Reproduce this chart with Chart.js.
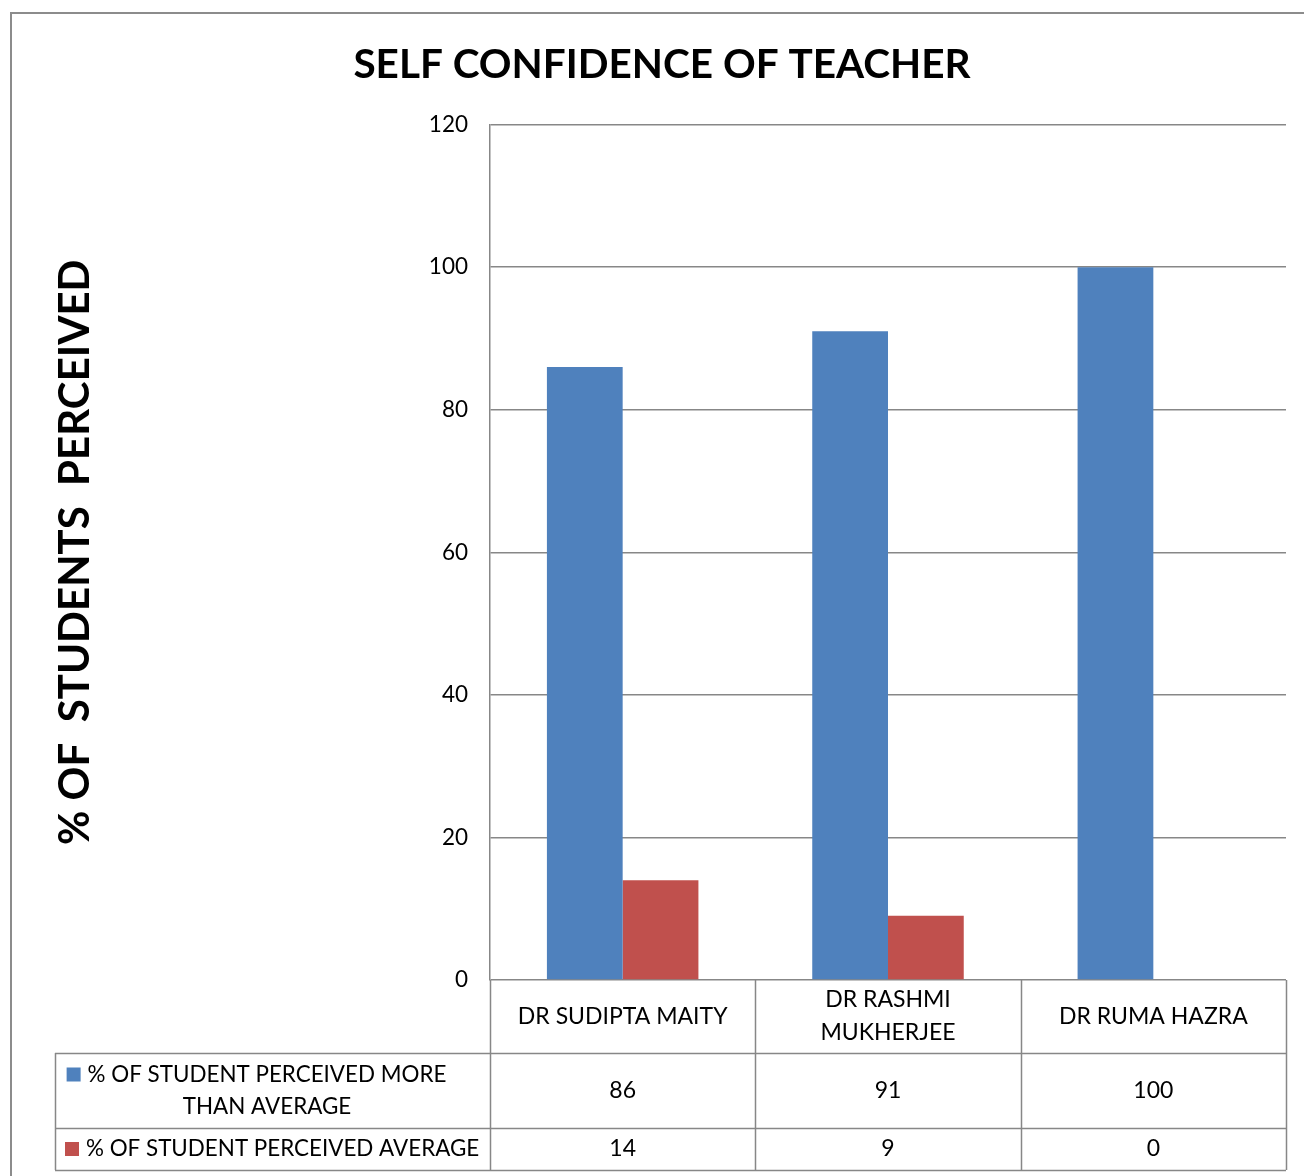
<!DOCTYPE html>
<html>
<head>
<meta charset="utf-8">
<script src="https://cdn.jsdelivr.net/npm/chart.js@4/dist/chart.umd.min.js"></script>
<style>
  html, body { margin: 0; padding: 0; background: #fff; }
  #wrap { position: relative; width: 1304px; height: 1176px; }
</style>
</head>
<body>
<div id="wrap"><canvas id="chart" width="1304" height="1176"></canvas></div>
<script>
// chart data
const teachers = [['DR SUDIPTA MAITY'], ['DR RASHMI', 'MUKHERJEE'], ['DR RUMA HAZRA']];
const moreThanAverage = [86, 91, 100];
const average = [14, 9, 0];
const seriesNames = [['% OF STUDENT PERCEIVED MORE', 'THAN AVERAGE'], ['% OF STUDENT PERCEIVED AVERAGE']];
const yMax = 120;
const yStep = 20;

const FONT = 'Lato, "Open Sans", sans-serif';
const BLUE = '#4F81BD';
const RED = '#C0504D';
const LINE = '#878787';

// draws the excel-like data table under the plot + outer frame
const dataTable = {
    id: 'dataTable',
    afterDraw(chart) {
        const ctx = chart.ctx;
        const x = chart.scales.x;
        const area = chart.chartArea;
        const catW = (area.right - area.left) / teachers.length;
        const top = area.bottom;
        const row1 = top + 73;
        const row2 = row1 + 75;
        const bottom = row2 + 42;
        const labelLeft = 55;

        ctx.save();
        ctx.strokeStyle = LINE;
        ctx.lineWidth = 1.5;
        ctx.beginPath();
        // vertical lines
        for (let i = 0; i <= teachers.length; i++) {
            const lx = Math.round(area.left + i * catW) + 0.5;
            ctx.moveTo(lx, top);
            ctx.lineTo(lx, bottom);
        }
        ctx.moveTo(labelLeft + 0.5, row1);
        ctx.lineTo(labelLeft + 0.5, bottom);
        // horizontal lines
        [row1, row2, bottom].forEach(ly => {
            ctx.moveTo(labelLeft, Math.round(ly) + 0.5);
            ctx.lineTo(area.right, Math.round(ly) + 0.5);
        });
        ctx.stroke();

        ctx.fillStyle = '#000';
        ctx.font = '23px ' + FONT;
        ctx.textAlign = 'center';
        ctx.textBaseline = 'middle';

        // header with teacher names
        teachers.forEach((lines, i) => {
            const cx = x.getPixelForValue(i);
            const cy = (top + row1) / 2;
            lines.forEach((t, j) => {
                ctx.fillText(t, cx, cy + (j - (lines.length - 1) / 2) * 33);
            });
        });

        // series rows
        const rows = [[row1, row2, moreThanAverage, BLUE], [row2, bottom, average, RED]];
        rows.forEach((r, k) => {
            const cy = (r[0] + r[1]) / 2;
            ctx.font = '23px ' + FONT;
            r[2].forEach((v, i) => {
                ctx.fillText(String(v), x.getPixelForValue(i), cy);
            });
            ctx.font = '22.4px ' + FONT;
            const lines = seriesNames[k];
            const firstW = ctx.measureText(lines[0]).width;
            let labelCx = 267;
            if (labelCx - firstW / 2 < 86) labelCx = 86 + firstW / 2;
            lines.forEach((t, j) => {
                const ty = cy + (j - (lines.length - 1) / 2) * 32;
                ctx.fillText(t, labelCx, ty);
                if (j === 0) {
                    ctx.fillStyle = r[3];
                    ctx.fillRect(labelCx - firstW / 2 - 21, ty - 7, 14, 14);
                    ctx.fillStyle = '#000';
                }
            });
        });

        // outer frame
        ctx.strokeStyle = '#8c8c8c';
        ctx.lineWidth = 2;
        ctx.strokeRect(11, 13, 1310, 1180);
        ctx.restore();
    }
};

new Chart(document.getElementById('chart'), {
    type: 'bar',
    data: {
        labels: teachers.map(t => t.join(' ')),
        datasets: [
            { label: seriesNames[0].join(' '), data: moreThanAverage, backgroundColor: BLUE, barPercentage: 1, categoryPercentage: 0.571 },
            { label: seriesNames[1].join(' '), data: average, backgroundColor: RED, barPercentage: 1, categoryPercentage: 0.571 }
        ]
    },
    options: {
        responsive: false,
        animation: false,
        layout: { padding: { left: 38, right: 18, top: 0, bottom: 196 } },
        plugins: {
            legend: { display: false },
            tooltip: { enabled: false },
            title: {
                display: true,
                text: 'SELF CONFIDENCE OF TEACHER',
                color: '#000',
                font: { family: FONT, size: 40.5, weight: 'bold', lineHeight: 1.2 },
                padding: { top: 40.5, bottom: 35.5 }
            }
        },
        scales: {
            x: { display: false },
            y: {
                min: 0,
                max: yMax,
                ticks: { stepSize: yStep, color: '#000', padding: 22, font: { family: FONT, size: 22.5 } },
                grid: { color: LINE, lineWidth: 1.5, drawTicks: false },
                border: { color: LINE, width: 1.5 },
                title: {
                    display: true,
                    text: '% OF  STUDENTS  PERCEIVED',
                    color: '#000',
                    font: { family: FONT, size: 42, weight: 'bold', lineHeight: 1.2 },
                    padding: { top: 12, bottom: 0 }
                },
                afterFit(scale) { scale.width = 452; }
            }
        }
    },
    plugins: [dataTable]
});
</script>
</body>
</html>
